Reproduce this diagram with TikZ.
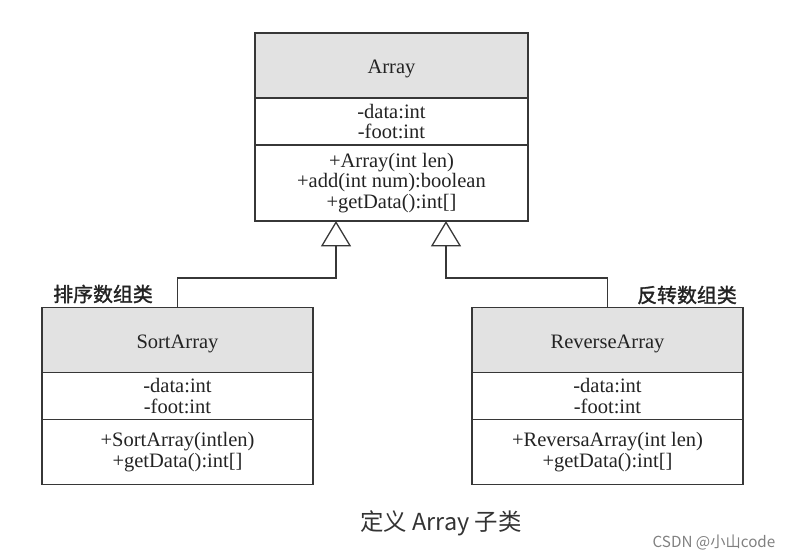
\documentclass[tikz,border=0pt]{standalone}
\usepackage{fontspec}
\setmainfont{Liberation Serif}
\newfontfamily\cjk{Noto Sans CJK SC}
\newfontfamily\cjkb[FakeBold=1.5]{Noto Sans CJK SC}
\usetikzlibrary{arrows.meta, positioning}
\definecolor{cabecera}{RGB}{226, 226, 226}
\definecolor{linea}{RGB}{55, 55, 55}
\definecolor{tinta}{RGB}{35, 35, 35}

\begin{document}
\begin{tikzpicture}[x=0.03cm, y=-0.03cm,
        parte/.style={rectangle, draw=linea, line width=1.1pt, outer sep=0pt, inner sep=0pt, align=center, text=tinta, font=\fontsize{17.5}{17.5}\selectfont},
        cabeza/.style={parte, fill=cabecera, minimum height=1.95cm, text height=16pt, text depth=2pt},
        atrib/.style={parte, fill=white, minimum height=1.41cm},
        metodo/.style={parte, fill=white},
        etiqueta/.style={font=\cjkb\fontsize{17}{17}\selectfont, text=tinta},
        hereda/.style={-{Triangle[open, length=0.76cm, width=0.9cm]}, line width=1.1pt, draw=linea}]
        \useasboundingbox (0,0) rectangle (793,559);
        \node[cabeza, minimum width=8.19cm] (arrH) at (391.5,65.5) {Array};
        \node[atrib, minimum width=8.19cm, below=0pt of arrH] (arrA) {-data:int\\-foot:int};
        \node[metodo, minimum width=8.19cm, minimum height=2.28cm, below=0pt of arrA] (arrM) {+Array(int len)\\+add(int num):boolean\\+getData():int[]};
        \node[cabeza, minimum width=8.13cm] (sortH) at (177.5,340) {SortArray};
        \node[atrib, minimum width=8.13cm, below=0pt of sortH] (sortA) {-data:int\\-foot:int};
        \node[metodo, minimum width=8.13cm, minimum height=1.95cm, below=0pt of sortA] (sortM) {+SortArray(intlen)\\+getData():int[]};
        \node[cabeza, minimum width=8.13cm] (revH) at (607.5,340) {ReverseArray};
        \node[atrib, minimum width=8.13cm, below=0pt of revH] (revA) {-data:int\\-foot:int};
        \node[metodo, minimum width=8.13cm, minimum height=1.95cm, below=0pt of revA] (revM) {+ReversaArray(int len)\\+getData():int[]};
        \node[etiqueta] (lblSort) at (103,294) {排序数组类};
        \node[etiqueta] (lblRev) at (687,295) {反转数组类};
        \coordinate (codoI) at (336,278);
        \coordinate (codoD) at (446,278);
        \draw[hereda] (sortH.north) |- (codoI) -- (codoI |- arrM.south);
        \draw[hereda] (revH.north) |- (codoD) -- (codoD |- arrM.south);
        \node[font=\cjk\fontsize{20}{20}\selectfont, text=black!80] (pie) at (441,523) {定义 Array 子类};
        \node[font=\cjk\fontsize{13}{13}\selectfont, text=black!50] (marca) at (714,542) {CSDN @小山code};
    \end{tikzpicture}
\end{document}
